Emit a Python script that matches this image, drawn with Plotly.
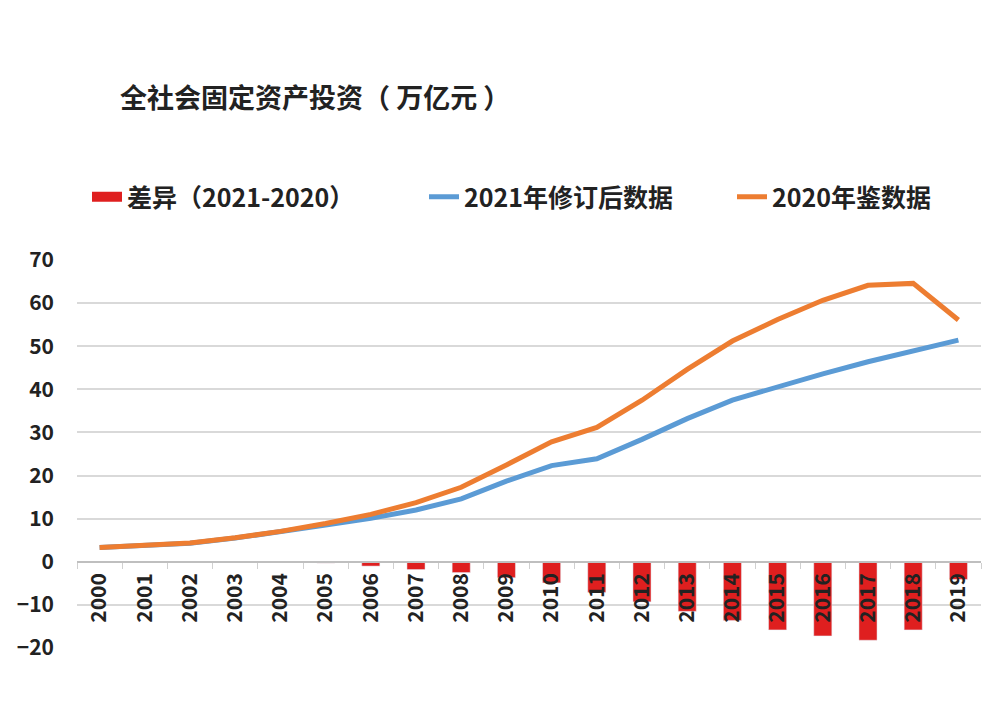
import plotly.graph_objects as go

years = [str(y) for y in range(2000, 2020)]
revised_2021 = [3.3, 3.7, 4.3, 5.5, 6.9, 8.5, 10.1, 12.0, 14.6, 18.7, 22.3, 23.9, 28.4, 33.2, 37.5, 40.6, 43.6, 46.4, 48.9, 51.4]
yearbook_2020 = [3.29, 3.72, 4.35, 5.56, 7.05, 8.88, 10.99, 13.73, 17.28, 22.46, 27.81, 31.15, 37.47, 44.63, 51.20, 56.20, 60.65, 64.12, 64.57, 56.09]
diff = [0, 0, 0, 0, 0, -0.3, -1.0, -1.8, -2.5, -3.7, -4.9, -7.1, -9.3, -11.5, -13.6, -15.8, -17.2, -18.2, -15.8, -4.1]
y_ticks = [-20, -10, 0, 10, 20, 30, 40, 50, 60, 70]

title_text = "全社会固定资产投资（ 万亿元 ）"
name_diff = "差异（2021-2020）"
name_rev = "2021年修订后数据"
name_yb = "2020年鉴数据"

RED = "#DF1F1F"
BLUE = "#5B9BD5"
ORANGE = "#ED7D31"
TXT = "#222222"
FONT = "Noto Sans CJK SC"

OFF = 8  # page body margin
W, H = 1005 - OFF, 716 - OFF
L, T = 77 - OFF, 260 - OFF
R = W - (981 - OFF)
B = H - (648 - OFF)
PW, PH = W - L - R, H - T - B


def px_x(px):
    return (px - OFF - L) / PW


def px_y(py):
    return (H - B - (py - OFF)) / PH


fig = go.Figure()
fig.add_trace(go.Bar(x=years, y=diff, marker_color=RED, showlegend=False, name=name_diff))
# legend proxy for the bar series (wide red rectangle)
fig.add_trace(go.Scatter(x=[None], y=[None], mode="lines", line=dict(color=RED, width=11),
                         name=name_diff, legend="legend"))
fig.add_trace(go.Scatter(x=years, y=revised_2021, mode="lines", line=dict(color=BLUE, width=5),
                         name=name_rev, legend="legend2"))
fig.add_trace(go.Scatter(x=years, y=yearbook_2020, mode="lines", line=dict(color=ORANGE, width=5),
                         name=name_yb, legend="legend3"))

leg_common = dict(orientation="h", xanchor="left", yanchor="middle", y=px_y(197),
                  font=dict(size=25, color=TXT, family=FONT, weight="bold"), bgcolor="rgba(0,0,0,0)")

fig.update_layout(
    width=W, height=H,
    margin=dict(l=L, r=R, t=T, b=B, autoexpand=False),
    paper_bgcolor="white", plot_bgcolor="white",
    font=dict(family=FONT, color=TXT, size=20),
    bargap=0.6,
    showlegend=True,
    legend=dict(x=px_x(87), **leg_common),
    legend2=dict(x=px_x(424), **leg_common),
    legend3=dict(x=px_x(732), **leg_common),
    annotations=[dict(text=title_text, xref="paper", yref="paper", x=px_x(118),
                      y=px_y(97), xanchor="left", yanchor="middle",
                      showarrow=False, font=dict(size=27, color=TXT, family=FONT, weight="bold"))],
)

fig.update_xaxes(
    type="category", anchor="free", position=20 / 90,
    showline=True, linecolor="#BFBFBF", linewidth=2,
    ticks="outside", tickson="boundaries", ticklen=6, tickcolor="#D0D0D0",
    tickangle=-90, tickfont=dict(size=21, color=TXT, family=FONT, weight="bold"),
    showgrid=False, ticklabelstandoff=2,
)
fig.update_yaxes(
    range=[-20, 70], tickvals=y_ticks, showgrid=True, gridcolor="#D9D9D9", gridwidth=2,
    zeroline=False, showline=False, tickfont=dict(size=21, color=TXT, family=FONT, weight="bold"),
    ticklabelstandoff=22,
)

fig.write_html("out.html")
